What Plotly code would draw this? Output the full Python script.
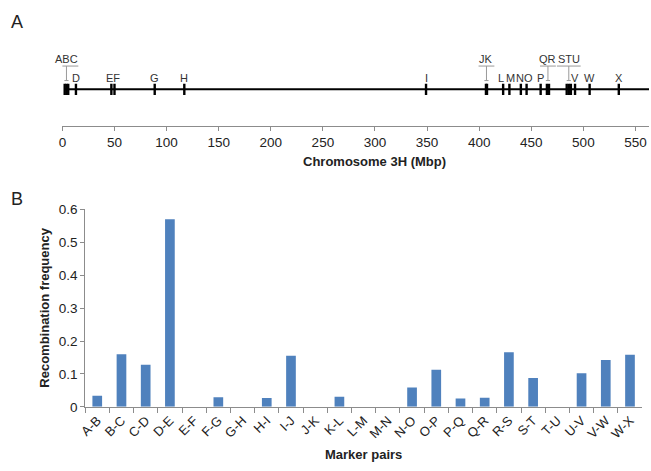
import plotly.graph_objects as go

# ---------------- data ----------------
marker_names = list("ABCDEFGHIJKLMNOPQRSTUVWX")
marker_pos_mbp = [2.2, 3.9, 5.6, 13.0, 47.0, 50.0, 88.6, 117.0, 349.0, 406.5, 407.5,
                  423.0, 429.0, 440.0, 445.5, 459.0, 465.0, 467.0, 484.0, 486.0,
                  488.0, 492.0, 506.0, 534.0]
single_labels = ["D", "EF", "G", "H", "I", "L", "M", "N", "O", "P", "V", "W", "X"]
bracket_labels = ["ABC", "JK", "QR", "STU"]
chrom_end_mbp = 563
top_ticks = [0, 50, 100, 150, 200, 250, 300, 350, 400, 450, 500, 550]

pairs = ["A-B", "B-C", "C-D", "D-E", "E-F", "F-G", "G-H", "H-I", "I-J", "J-K", "K-L",
         "L-M", "M-N", "N-O", "O-P", "P-Q", "Q-R", "R-S", "S-T", "T-U", "U-V", "V-W", "W-X"]
recomb_freq = [0.034, 0.160, 0.128, 0.570, 0.0, 0.029, 0.0, 0.027, 0.155, 0.0, 0.031,
               0.0, 0.0, 0.059, 0.113, 0.025, 0.028, 0.166, 0.088, 0.0, 0.102, 0.142, 0.158]

# ---------------- layout helpers ----------------
W, H = 651, 471
def px(x):
    return x / W
def py(y):
    return 1 - y / H

pos = dict(zip(marker_names, marker_pos_mbp))
def center(lbl):
    return sum(pos[c] for c in lbl) / len(lbl)

# small horizontal nudges (Mbp) so crowded labels do not collide
label_nudge = {"L": -2.0, "M": 1.3, "N": -0.8, "O": 1.8}

FONT = "Liberation Sans, Arial, sans-serif"
BLUE = "#4F81BD"
AXC = "#8c8c8c"
TXT = "#222222"

fig = go.Figure()

# chromosome backbone
fig.add_trace(go.Scatter(x=[marker_pos_mbp[0], chrom_end_mbp], y=[38, 38], mode="lines",
                         line=dict(color="black", width=2), xaxis="x", yaxis="y",
                         hoverinfo="skip", showlegend=False))
# marker ticks
fig.add_trace(go.Scatter(x=marker_pos_mbp, y=[38] * len(marker_pos_mbp), mode="markers",
                         marker=dict(symbol="line-ns", size=8,
                                     line=dict(color="black", width=2.4)),
                         xaxis="x", yaxis="y", text=marker_names, showlegend=False))

annotations = []
shapes = []
for lbl in single_labels:
    annotations.append(dict(x=center(lbl) + label_nudge.get(lbl, 0), y=50, xref="x", yref="y",
                            text=lbl, showarrow=False, xanchor="center", yanchor="middle",
                            font=dict(size=11, color="#333", family=FONT)))
for lbl in bracket_labels:
    c = center(lbl)
    hw = 3.8 * len(lbl)
    annotations.append(dict(x=c, y=69, xref="x", yref="y", text=lbl, showarrow=False,
                            xanchor="center", yanchor="middle",
                            font=dict(size=11, color="#333", family=FONT)))
    gl = dict(color="#9a9a9a", width=1)
    shapes.append(dict(type="line", xref="x", yref="y", x0=c - hw, x1=c + hw, y0=62, y1=62, line=gl))
    shapes.append(dict(type="line", xref="x", yref="y", x0=c, x1=c, y0=62, y1=47, line=gl))
    shapes.append(dict(type="line", xref="x", yref="y", x0=c - 2, x1=c + 2, y0=47, y1=47, line=gl))

# bars
fig.add_trace(go.Bar(x=pairs, y=recomb_freq, marker=dict(color=BLUE, line=dict(width=0)),
                     xaxis="x2", yaxis="y2", showlegend=False))

def paper_text(x, y, text, size, angle=0):
    return dict(x=px(x), y=py(y), xref="paper", yref="paper", text=text, textangle=angle,
                xanchor="center", yanchor="middle", showarrow=False,
                font=dict(size=size, color=TXT, family=FONT))

annotations += [
    paper_text(371, 160, "<b>Chromosome 3H (Mbp)</b>", 13),
    paper_text(360, 462, "<b>Marker pairs</b>", 13),
    paper_text(37, 311, "<b>Recombination frequency</b>", 13, -90),
    paper_text(10, 16, "A", 18),
    paper_text(10, 198, "B", 18),
]

fig.update_layout(
    width=W, height=H, margin=dict(l=0, r=0, t=0, b=0),
    paper_bgcolor="white", plot_bgcolor="white",
    font=dict(family=FONT, size=12, color=TXT),
    bargap=0.6,
    xaxis=dict(domain=[px(56), px(649)], range=[0, chrom_end_mbp], tickvals=top_ticks,
               showline=True, linecolor=AXC, linewidth=1, ticks="outside", ticklen=4,
               tickcolor=AXC, showgrid=False, zeroline=False, anchor="y",
               ticklabeloverflow="allow", tickfont=dict(size=13.5, color=TXT)),
    yaxis=dict(domain=[py(123), py(45)], range=[0, 78], visible=False, anchor="x"),
    xaxis2=dict(domain=[px(79), px(642)], range=[-0.5, 22.5], tickangle=-45,
                showline=True, linecolor=AXC, linewidth=1, ticks="outside", ticklen=5,
                tickcolor=AXC, tickson="boundaries", showgrid=False, zeroline=False,
                anchor="y2", tickfont=dict(size=13, color=TXT)),
    yaxis2=dict(domain=[py(413), py(209)], range=[0, 0.6], dtick=0.1, showline=True,
                linecolor=AXC, linewidth=1, ticks="outside", ticklen=4, tickcolor=AXC,
                showgrid=False, zeroline=False, anchor="x2",
                tickfont=dict(size=13.5, color=TXT)),
    annotations=annotations, shapes=shapes,
)

fig.write_html("out.html", config={"displayModeBar": False},
               post_script="document.body.style.margin='0';document.body.style.overflow='hidden';")
